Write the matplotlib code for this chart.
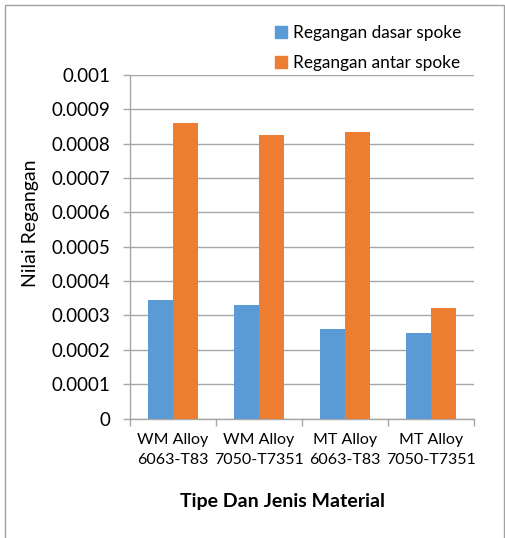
import matplotlib
matplotlib.use("Agg")
import matplotlib.pyplot as plt
from matplotlib.lines import Line2D
from matplotlib.patches import Rectangle
import numpy as np

plt.rcParams['font.family'] = ['Lato', 'DejaVu Sans']

categories = ["WM Alloy\n6063-T83", "WM Alloy\n7050-T7351", "MT Alloy\n6063-T83", "MT Alloy\n7050-T7351"]
series_names = ["Regangan dasar spoke", "Regangan antar spoke"]
regangan_dasar = [0.000344, 0.000330, 0.000260, 0.000249]
regangan_antar = [0.000861, 0.000824, 0.000833, 0.000322]
y_ticks = [0, 0.0001, 0.0002, 0.0003, 0.0004, 0.0005, 0.0006, 0.0007, 0.0008, 0.0009, 0.001]

blue = "#5B9BD5"
orange = "#ED7D31"
grid_c = "#A6A6A6"

W, H = 506, 538
fig = plt.figure(figsize=(W / 100, H / 100), dpi=100)
ax = fig.add_axes([130 / W, 1 - 418.5 / H, (474 - 130) / W, (418.5 - 75) / H])

x = np.arange(len(categories))
w = 0.285
ax.bar(x - w / 2, regangan_dasar, width=w, color=blue, zorder=3, label=series_names[0])
ax.bar(x + w / 2, regangan_antar, width=w, color=orange, zorder=3, label=series_names[1])

ax.set_xlim(-0.5, len(categories) - 0.5)
ax.set_ylim(0, 0.001)
ax.set_yticks(y_ticks)
ax.set_yticklabels([f"{round(v, 6):g}" for v in y_ticks], fontsize=13.5)
ax.yaxis.grid(True, color=grid_c, lw=1.0, zorder=0)
ax.tick_params(axis='y', length=5, width=1.0, color=grid_c, pad=9)

ax.set_xticks(x)
ax.set_xticklabels(categories, fontsize=11.5, linespacing=1.55)
ax.set_xticks(np.arange(-0.5, len(categories), 1.0), minor=True)
ax.tick_params(axis='x', which='major', length=0, pad=10.5)
ax.tick_params(axis='x', which='minor', length=5, width=1.0, color=grid_c)

for s in ['top', 'right']:
    ax.spines[s].set_visible(False)
for s in ['left', 'bottom']:
    ax.spines[s].set_color(grid_c)
    ax.spines[s].set_linewidth(1.0)

fig.text(31 / W, 1 - 223 / H, "Nilai Regangan", rotation=90, ha='center', va='center', fontsize=14)
fig.text(283 / W, 1 - 501 / H, "Tipe Dan Jenis Material", ha='center', va='center',
         fontsize=14, fontweight='bold')

handles = [Line2D([], [], marker='s', ls='', color=blue, markersize=8),
           Line2D([], [], marker='s', ls='', color=orange, markersize=8)]
fig.legend(handles, series_names, loc='upper left', bbox_to_anchor=(267 / W, 1 - 18 / H),
           frameon=False, fontsize=12.4, handlelength=0.8, handletextpad=0.3,
           labelspacing=0.8, borderaxespad=0)

fig.patches.append(Rectangle((5 / W, -0.01), 499.5 / W, 1 - 4.5 / H + 0.01,
                             transform=fig.transFigure, fill=False, ec="#A0A0A0", lw=1.0))

fig.savefig("out.png", dpi=100)
